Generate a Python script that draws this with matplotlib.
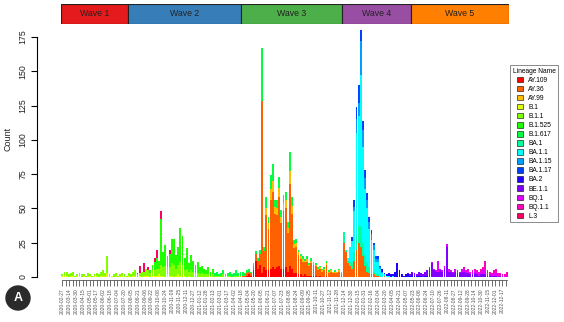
import numpy as np
import matplotlib.pyplot as plt
from matplotlib.patches import Patch, Circle

plt.rcParams["font.family"] = ["Liberation Sans", "DejaVu Sans"]

day0 = np.datetime64("2020-02-27")
bin_days = 5
n_bins = 208

lineages = ["AY.109", "AY.36", "AY.99", "B.1", "B.1.1", "B.1.525", "B.1.617",
            "BA.1", "BA.1.1", "BA.1.15", "BA.1.17", "BA.2", "BE.1.1", "BQ.1",
            "BQ.1.1", "L.3"]
colors = ["#FF0000", "#FF6000", "#FFBF00", "#DFFF00", "#80FF00", "#20FF00",
          "#00FF40", "#00FF9F", "#00FFFF", "#009FFF", "#0040FF", "#2000FF",
          "#8000FF", "#DF00FF", "#FF00BF", "#FF0060"]

ay109_start = "2021-05-02"
ay109 = [1, 2, 1, 5, 12, 6, 9, 3,
         7, 5, 5, 6, 7, 6, 7, 8, 6, 6,
         7, 4, 8, 6, 3, 3, 2, 2, 1, 2,
         1, 1, 1, 1, 1, 0, 1, 0, 0, 1]

ay36_start = "2021-04-22"
ay36 = [1, 1, 2, 2, 2, 3, 5, 6, 8, 125,
        12, 40, 30, 50, 55, 40, 38, 50, 33, 42,
        43, 28, 60, 40, 18, 19, 14, 11, 10, 9,
        10, 7, 9, 8, 7, 5, 5, 4, 5, 8,
        3, 4, 3, 3, 3, 4, 3,
        25, 18, 10, 8, 6, 12, 20, 25, 22, 15,
        8, 4, 3, 2, 2, 1, 1, 0, 0, 1]

ay99_start = "2021-06-16"
ay99 = [5, 4, 8, 8, 5, 5, 7, 5, 6, 6,
        4, 9, 6, 3, 3, 2, 2, 2, 1, 2,
        1, 2, 1, 1, 1, 1, 1, 1, 1, 1,
        1, 1, 1, 1, 1, 1]

b1_start = "2020-02-27"
b1 = [1, 1, 1, 0, 1, 1, 0, 1, 1, 0,
      1, 0, 1, 1, 0, 1, 1, 0, 1, 1,
      1, 3, 0, 1, 0, 1, 0, 1, 1, 0,
      0, 1, 0, 1, 1, 0, 1, 0, 1, 1,
      1, 0, 1, 1, 1, 2, 1, 1, 0, 2,
      1, 1, 0, 1, 2, 1, 0, 1, 0, 1]

b11_start = "2020-02-27"
b11 = [1, 3, 3, 2, 2, 3, 1, 1, 2, 2,
       1, 1, 2, 1, 1, 1, 2, 2, 3, 4,
       2, 12, 2, 0, 2, 2, 1, 1, 2, 2, 1,
       2, 2, 3, 4, 2, 2, 4, 3, 5, 4,
       3, 4, 4, 5, 4, 8, 6, 8, 5, 6,
       9, 9, 5, 7, 10, 9, 4, 6, 3, 5,
       4, 3, 3, 2, 3, 2, 2, 2, 1, 2,
       1, 1, 1, 1, 2, 1, 1, 1, 0, 1,
       1, 1, 1]

b1525_start = "2020-09-19"
b1525 = [2, 4, 6, 8, 6, 33, 11, 15, 8, 10,
         18, 19, 10, 13, 25, 21, 9, 15, 6, 11,
         8, 6, 8, 5, 5, 4, 3, 5, 3, 4]

b1617_start = "2021-02-16"
b1617 = [2, 3, 1, 2, 3, 1, 2, 3, 2, 2, 4, 2, 3,
         3, 2, 2, 2, 1, 2, 2, 2, 3, 39,
         3, 8, 5, 10, 12, 5, 6, 8, 5, 6,
         6, 4, 14, 6, 3, 3, 2, 2, 2, 1,
         2, 1, 2, 1, 1, 1, 1, 1, 1, 2,
         1, 1, 0, 1, 0, 1, 0]

ba1_start = "2021-12-13"
ba1 = [8, 2, 2, 3, 4, 6, 10, 12, 15, 10, 8, 6, 4, 3, 2, 1, 1, 1]

ba11_start = "2021-12-23"
ba11 = [2, 11, 16, 30, 75, 80, 110, 70, 48, 40,
        28, 22, 16, 9, 9, 5, 3, 1, 1, 1, 0, 1]

ba115_start = "2022-01-07"
ba115 = [3, 10, 10, 25, 12, 8, 6, 5, 4, 3, 2, 2, 1, 1]

ba117_start = "2022-01-02"
ba117 = [3, 5, 9, 13, 8, 7, 6, 5, 4, 3, 2, 2, 2, 1]

ba2_start = "2022-03-13"
ba2 = [2, 1, 1, 2, 2, 1, 4, 10, 5, 2, 1, 2,
       2, 1, 2, 1, 1, 1, 1, 0, 1, 1]

be11_start = "2022-05-12"
be11 = [1, 1, 2, 2, 1, 3, 2, 2, 3, 4,
        6, 10, 5, 4, 4, 5, 4, 6, 22, 4,
        4, 3, 4, 3, 3, 4, 4, 3, 3, 2,
        2, 3, 2, 1, 2, 2, 2, 1, 1, 1,
        1, 1, 0, 1, 0, 0, 0]

bq1_start = "2022-07-01"
bq1 = [1, 1, 1, 1, 8, 1, 1, 2, 2, 2,
       1, 1, 2, 2, 1, 2, 2, 1, 2, 1,
       2, 2, 2, 2, 2, 3, 3, 2, 1, 1,
       2, 2, 1, 1, 1, 1, 1]

bq11_start = "2022-09-09"
bq11 = [0, 0, 1, 1, 1, 1, 1, 1, 1, 1,
        2, 2, 7, 2, 2, 1, 2, 3, 2, 1,
        1, 1, 3]

l3_start = "2020-08-20"
l3 = [1, 5, 0, 6, 0, 2, 0, 0, 3, 6, 0, 6, 0, 0, 0, 3]

series = [(ay109_start, ay109), (ay36_start, ay36), (ay99_start, ay99),
          (b1_start, b1), (b11_start, b11), (b1525_start, b1525),
          (b1617_start, b1617), (ba1_start, ba1), (ba11_start, ba11),
          (ba115_start, ba115), (ba117_start, ba117), (ba2_start, ba2),
          (be11_start, be11), (bq1_start, bq1), (bq11_start, bq11),
          (l3_start, l3)]

waves = ["Wave 1", "Wave 2", "Wave 3", "Wave 4", "Wave 5"]
wave_edges = ["2020-02-25", "2020-07-30", "2021-04-19", "2021-12-10",
              "2022-05-18", "2023-01-01"]
wave_colors = ["#E41A1C", "#377EB8", "#4DAF4A", "#984EA3", "#FF7F00"]


def day(s):
    return int((np.datetime64(s) - day0).astype(int))


counts = np.zeros((len(lineages), n_bins))
for k, (start, vals) in enumerate(series):
    i0 = day(start) // bin_days
    counts[k, i0:i0 + len(vals)] = vals

x = np.arange(n_bins) * bin_days

W, H = 564, 322
fig = plt.figure(figsize=(W / 100, H / 100), dpi=100)
ax = fig.add_axes([61 / W, 1 - 277 / H, 448 / W, 250 / H])
xlim = (-3, 1040)

bottom = np.zeros(n_bins)
for k in range(len(lineages)):
    ax.bar(x, counts[k], bottom=bottom, width=4.3, color=colors[k], linewidth=0)
    bottom += counts[k]

ax.set_xlim(*xlim)
ax.set_ylim(0, 250 / 1.372)
for s in ["top", "right"]:
    ax.spines[s].set_visible(False)
ax.spines["left"].set_position(("outward", 17))
ax.spines["left"].set_bounds(0, 175)
ax.spines["left"].set_linewidth(0.8)
ax.spines["bottom"].set_position(("outward", 2))
ax.spines["bottom"].set_bounds(0, 1035)
ax.spines["bottom"].set_linewidth(0.6)
ax.spines["bottom"].set_color("#555555")

ax.set_yticks(np.arange(0, 176, 25))
ax.set_yticklabels([str(v) for v in range(0, 176, 25)], rotation=90, va="center",
                   fontsize=6.3, color="#222222")
ax.tick_params(axis="y", length=4, width=0.8, pad=3)

tick_days = np.arange(0, 1036, 8)
ax.set_xticks(tick_days)
ax.set_xticklabels([str(day0 + int(d)) if d % 16 == 0 else "" for d in tick_days],
                   rotation=90, fontsize=3.6, color="#555555")
ax.tick_params(axis="x", length=4, width=0.6, color="#555555", pad=2)

fig.text(8 / W, 1 - 139 / H, "Count", rotation=90, va="center", ha="center",
         fontsize=6.5, color="#222222")

# wave bar on top
wax = fig.add_axes([61 / W, 1 - 24 / H, 448 / W, 20 / H])
for i, name in enumerate(waves):
    a, b = day(wave_edges[i]), day(wave_edges[i + 1])
    wax.barh(0, b - a, left=a, height=1, color=wave_colors[i],
             edgecolor="#222222", linewidth=0.8)
    wax.text((a + b) / 2, 0, name, ha="center", va="center", fontsize=6.3,
             color="#222222")
wax.set_xlim(*xlim)
wax.set_ylim(-0.5, 0.5)
wax.axis("off")

handles = [Patch(facecolor=c, edgecolor="black", linewidth=0.4) for c in colors]
leg = fig.legend(handles, lineages, title="Lineage Name", loc="upper left",
                 bbox_to_anchor=(510 / W, 1 - 65 / H), fontsize=4.8,
                 title_fontsize=4.8, frameon=True, fancybox=False,
                 handlelength=0.9, handleheight=0.9, handletextpad=0.8,
                 labelspacing=0.3, borderpad=0.4, borderaxespad=0)
leg.get_frame().set_edgecolor("#555555")
leg.get_frame().set_linewidth(0.6)

fig.add_artist(Circle((0.18, (H - 298) / 100), 0.12, transform=fig.dpi_scale_trans,
                      color="#2b2b2b"))
fig.text(18 / W, 1 - 298 / H, "A", ha="center", va="center", fontsize=9,
         fontweight="bold", color="white")

fig.savefig("out.png", dpi=100)
